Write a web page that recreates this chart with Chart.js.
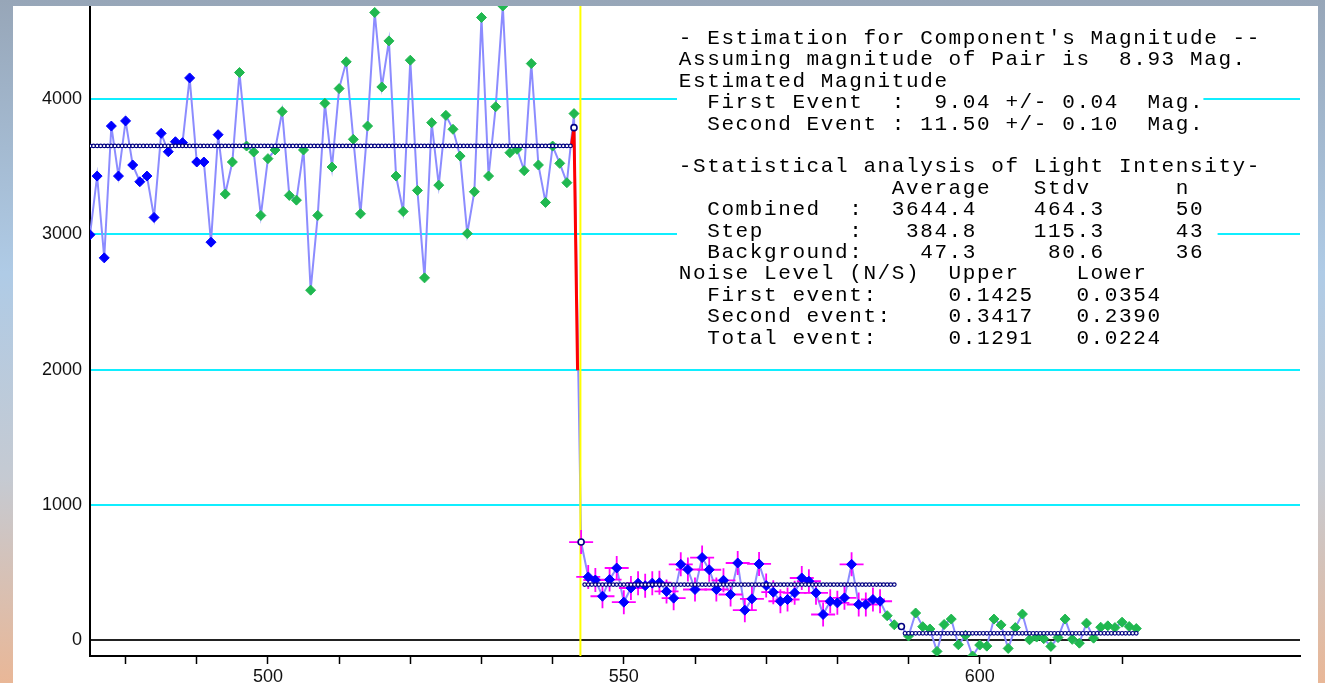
<!DOCTYPE html>
<html>
<head>
<meta charset="utf-8">
<script src="https://cdn.jsdelivr.net/npm/chart.js@4.4.1/dist/chart.umd.min.js"></script>
<style>
html, body { margin: 0; padding: 0; }
body {
    width: 1325px; height: 683px; overflow: hidden; position: relative;
    background: linear-gradient(to bottom, #97a6b8 0%, #afcbe6 40%, #c5cad2 70%, #e9b797 100%);
}
#panel { position: absolute; left: 13px; top: 6px; width: 1305px; height: 677px; background: #fff; }
canvas { display: block; }
</style>
</head>
<body>
<div id="panel"><canvas id="chart" width="1305" height="677"></canvas></div>
<script>
// light intensity per frame, starting at frame 475
const firstFrame = 475;
const intensity = [
    2998, 3432, 2827, 3802, 3432, 3840, 3514, 3390, 3432, 3126,
    3748, 3612, 3686, 3679, 4158, 3536, 3536, 2943, 3738, 3299,
    3536, 4198, 3654, 3610, 3141, 3561, 3625, 3909, 3289, 3254,
    3625, 2588, 3141, 3970, 3499, 4079, 4277, 3704, 3153, 3802,
    4642, 4091, 4432, 3432, 3170, 4289, 3326, 2679, 3827, 3365,
    3881, 3778, 3580, 3007, 3316, 4605, 3432, 3945, 4690, 3605,
    3630, 3472, 4264, 3514, 3237, 3654, 3526, 3383, 3894,
    725, 467, 444, 324, 447, 533, 280, 385, 420, 402,
    421, 424, 360, 310, 560, 522, 374, 610, 520, 374,
    442, 337, 570, 221, 305, 563, 403, 354, 287, 300,
    349, 459, 435, 349, 189, 287, 275, 312, 560, 263,
    263, 300, 287,
    180, 113, 100, 30, 200, 99, 82, -84, 115, 155,
    -35, 35, -118, -37, -45, 155, 112, -62, 92, 192,
    2, 22, 10, -47, 18, 155, 5, -23, 125, 14,
    95, 105, 92, 132, 100, 85
];
const blueRanges = [[475, 493], [545, 586]];
const eventFrames = [544, 589];
const errorRange = [544, 586];

// fitted levels (combined, step, background)
const levelFrom = [475, 544.5, 589.5];
const levelTo = [542.5, 588, 622];
const levelValue = [3655, 410, 50];
const extraLevelX = [543];
const extraLevelY = [3790];

// step fit (red) and event time (yellow)
const stepX = [542.6, 543.0, 543.5];
const stepY = [3644, 3790, 1995];
const eventTime = 543.9;

const xTicks = [480, 490, 500, 510, 520, 530, 540, 550, 560, 570, 580, 590, 600, 610, 620];
const xLabels = [500, 550, 600];
const yTicks = [0, 1000, 2000, 3000, 4000];

const infoLines = [
    "- Estimation for Component's Magnitude --",
    "Assuming magnitude of Pair is  8.93 Mag.",
    "Estimated Magnitude",
    "  First Event  :  9.04 +/- 0.04  Mag.",
    "  Second Event : 11.50 +/- 0.10  Mag.",
    "",
    "-Statistical analysis of Light Intensity-",
    "               Average   Stdv      n",
    "  Combined  :  3644.4    464.3     50",
    "  Step      :   384.8    115.3     43 ",
    "  Background:    47.3     80.6     36",
    "Noise Level (N/S)  Upper    Lower",
    "  First event:     0.1425   0.0354",
    "  Second event:    0.3417   0.2390",
    "  Total event:     0.1291   0.0224"
];

const raw = intensity.map((v, i) => ({ x: firstFrame + i, y: v }));
const isBlue = f => blueRanges.some(r => f >= r[0] && f <= r[1]);
const bluePts = raw.filter(p => isBlue(p.x) && !eventFrames.includes(p.x));
const greenPts = raw.filter(p => !isBlue(p.x) && !eventFrames.includes(p.x));
const eventPts = raw.filter(p => eventFrames.includes(p.x))
    .concat(extraLevelX.map((x, i) => ({ x: x, y: extraLevelY[i] })));
const errPts = raw.filter(p => p.x >= errorRange[0] && p.x <= errorRange[1]);

const levelPts = [];
levelFrom.forEach((f, i) => {
    for (let x = f; x <= levelTo[i] + 1e-9; x += 0.5) levelPts.push({ x: x, y: levelValue[i] });
});

const infoPlugin = {
    id: 'info',
    afterDraw(chart) {
        const c = chart.ctx;
        const left = 665, charW = 14.2, lineH = 21.4, base0 = 38;
        c.save();
        c.font = '21px "Liberation Mono"';
        c.textAlign = 'center';
        c.textBaseline = 'alphabetic';
        infoLines.forEach((line, i) => {
            if (!line) return;
            const b = base0 + i * lineH;
            c.fillStyle = '#fff';
            c.fillRect(left - 1, b - 17, line.length * charW + 1, lineH);
            c.fillStyle = '#000';
            for (let k = 0; k < line.length; k++) {
                c.fillText(line[k], left + (k + 0.5) * charW, b);
            }
        });
        c.restore();
    }
};

new Chart(document.getElementById('chart'), {
    type: 'scatter',
    data: {
        datasets: [
            {
                data: raw, showLine: true, borderColor: '#8c8cff', borderWidth: 2,
                pointRadius: 0, order: 10
            },
            {
                data: [{ x: eventTime, y: -118 }, { x: eventTime, y: 4690 }], showLine: true,
                borderColor: '#ffff00', borderWidth: 2, pointRadius: 0, order: 9
            },
            {
                data: stepX.map((x, i) => ({ x: x, y: stepY[i] })), showLine: true,
                borderColor: '#ff0000', borderWidth: 3, pointRadius: 0, order: 8
            },
            {
                data: errPts, pointStyle: 'cross', pointRadius: 12, borderColor: '#ff00ff',
                borderWidth: 1.8, order: 7
            },
            {
                data: bluePts, pointStyle: 'rectRot', pointRadius: 5, backgroundColor: '#0000ff',
                borderColor: '#0000ff', borderWidth: 1, order: 6
            },
            {
                data: greenPts, pointStyle: 'rectRot', pointRadius: 5, backgroundColor: '#20b850',
                borderColor: '#20b850', borderWidth: 1, order: 6
            },
            {
                data: levelPts, pointStyle: 'circle', pointRadius: 1.8, backgroundColor: '#fff',
                borderColor: '#000080', borderWidth: 1.2, order: 4
            },
            {
                data: eventPts, pointStyle: 'circle', pointRadius: 3, backgroundColor: '#fff',
                borderColor: '#000080', borderWidth: 1.6, order: 3
            }
        ]
    },
    options: {
        responsive: false,
        animation: false,
        devicePixelRatio: 1,
        layout: { autoPadding: false, padding: { top: 0, right: 18, bottom: 0, left: 0 } },
        plugins: { legend: { display: false }, tooltip: { enabled: false } },
        scales: {
            x: {
                type: 'linear', min: 475, max: 645,
                afterBuildTicks: s => { s.ticks = xTicks.map(v => ({ value: v })); },
                afterFit: s => { s.height = 27; s.paddingLeft = 0; s.paddingRight = 0; },
                border: { color: '#000', width: 2 },
                grid: { drawOnChartArea: false, drawTicks: true, tickLength: 8, tickWidth: 1.5, tickColor: '#000' },
                ticks: {
                    autoSkip: false, maxRotation: 0, padding: 2,
                    color: '#111', font: { family: 'Liberation Sans', size: 18 },
                    callback: v => xLabels.includes(v) ? String(v) : ''
                }
            },
            y: {
                type: 'linear', min: -118, max: 4690,
                afterBuildTicks: s => { s.ticks = yTicks.map(v => ({ value: v })); },
                afterFit: s => { s.width = 77; s.paddingTop = 0; s.paddingBottom = 0; },
                border: { color: '#000', width: 2 },
                grid: {
                    drawTicks: false, lineWidth: 2,
                    color: ctx => (ctx.tick && ctx.tick.value === 0) ? '#222' : '#10eeff'
                },
                ticks: {
                    padding: 8, color: '#111', font: { family: 'Liberation Sans', size: 18 },
                    callback: v => String(v)
                }
            }
        }
    },
    plugins: [infoPlugin]
});
</script>
</body>
</html>
